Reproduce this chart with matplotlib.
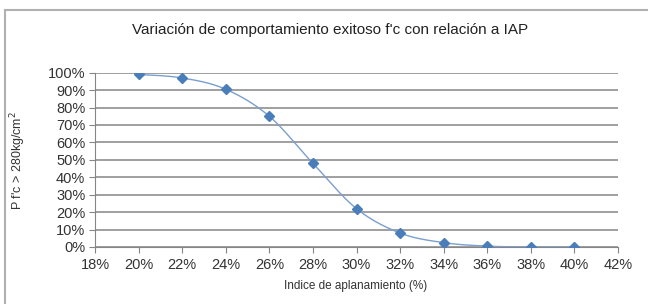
import numpy as np
import matplotlib
matplotlib.use("Agg")
import matplotlib.pyplot as plt
from matplotlib.patches import Rectangle
from matplotlib.ticker import FuncFormatter, MultipleLocator

plt.rcParams['font.family'] = ['Liberation Sans', 'DejaVu Sans']

#### data ##########################################
iap = [0.20, 0.22, 0.24, 0.26, 0.28, 0.30, 0.32, 0.34, 0.36, 0.38, 0.40]
prob = [0.99, 0.97, 0.905, 0.75, 0.48, 0.22, 0.08, 0.025, 0.005, 0.0, 0.0]
title = "Variación de comportamiento exitoso f'c con relación a IAP"
xlab = "Indice de aplanamiento (%)"
ylab = "P f'c > 280kg/cm$^2$"
####################################################

def smooth(x, y, n=20):
    # catmull-rom through the points, like excel's smoothed line
    x = np.asarray(x); y = np.asarray(y)
    sx = 1/0.24; sy = 0.6
    px = np.concatenate([[x[0]], x, [x[-1]]])*sx
    py = np.concatenate([[y[0]], y, [y[-1]]])*sy
    ox, oy = [], []
    for i in range(1, len(px)-2):
        t = np.linspace(0, 1, n, endpoint=False)
        for arr, out in ((px, ox), (py, oy)):
            p0, p1, p2, p3 = arr[i-1], arr[i], arr[i+1], arr[i+2]
            out.extend(0.5*((2*p1) + (-p0+p2)*t + (2*p0-5*p1+4*p2-p3)*t**2 + (-p0+3*p1-3*p2+p3)*t**3))
    ox.append(px[-2]); oy.append(py[-2])
    return np.array(ox)/sx, np.array(oy)/sy

fig = plt.figure(figsize=(6.48, 3.04), dpi=100)
fig.patches.append(Rectangle((5/648, -0.05), 1.1, 1-10/304+0.05, transform=fig.transFigure,
                             fill=False, edgecolor='#b0b0b0', linewidth=1.5))
ax = fig.add_axes([95/648, 1-247/304, (618-95)/648, (247-72.7)/304])

lx, ly = smooth(iap, prob)
ax.plot(lx, ly, color='#7a9fcf', linewidth=1.0, zorder=3)
ax.plot(iap, prob, linestyle='none', marker='D', markersize=5, color='#4a7ebb', zorder=4)

ax.set_xlim(0.18, 0.42)
ax.set_ylim(0, 1.0)
ax.xaxis.set_major_locator(MultipleLocator(0.02))
ax.yaxis.set_major_locator(MultipleLocator(0.1))
ax.xaxis.set_major_formatter(FuncFormatter(lambda v, p: "%d%%" % round(v*100)))
ax.yaxis.set_major_formatter(FuncFormatter(lambda v, p: "%d%%" % round(v*100)))
ax.grid(axis='y', color='#858585', linewidth=1.1)
ax.set_axisbelow(True)
for s in ['top', 'right']:
    ax.spines[s].set_visible(False)
for s in ['left', 'bottom']:
    ax.spines[s].set_color('#858585')
ax.tick_params(axis='both', colors='#858585', labelcolor='#333333', labelsize=10.5, length=4, direction='out')
ax.tick_params(axis='x', pad=4)
ax.tick_params(axis='y', pad=3)

fig.text(330/648, 1-30/304, title, ha='center', va='center', fontsize=11, color='#222222')
fig.text(356/648, 1-286/304, xlab, ha='center', va='center', fontsize=8.5, color='#333333')
fig.text(18/648, 1-160/304, ylab, ha='center', va='center', rotation=90, fontsize=9, color='#333333')

fig.savefig("out.png", dpi=100)
